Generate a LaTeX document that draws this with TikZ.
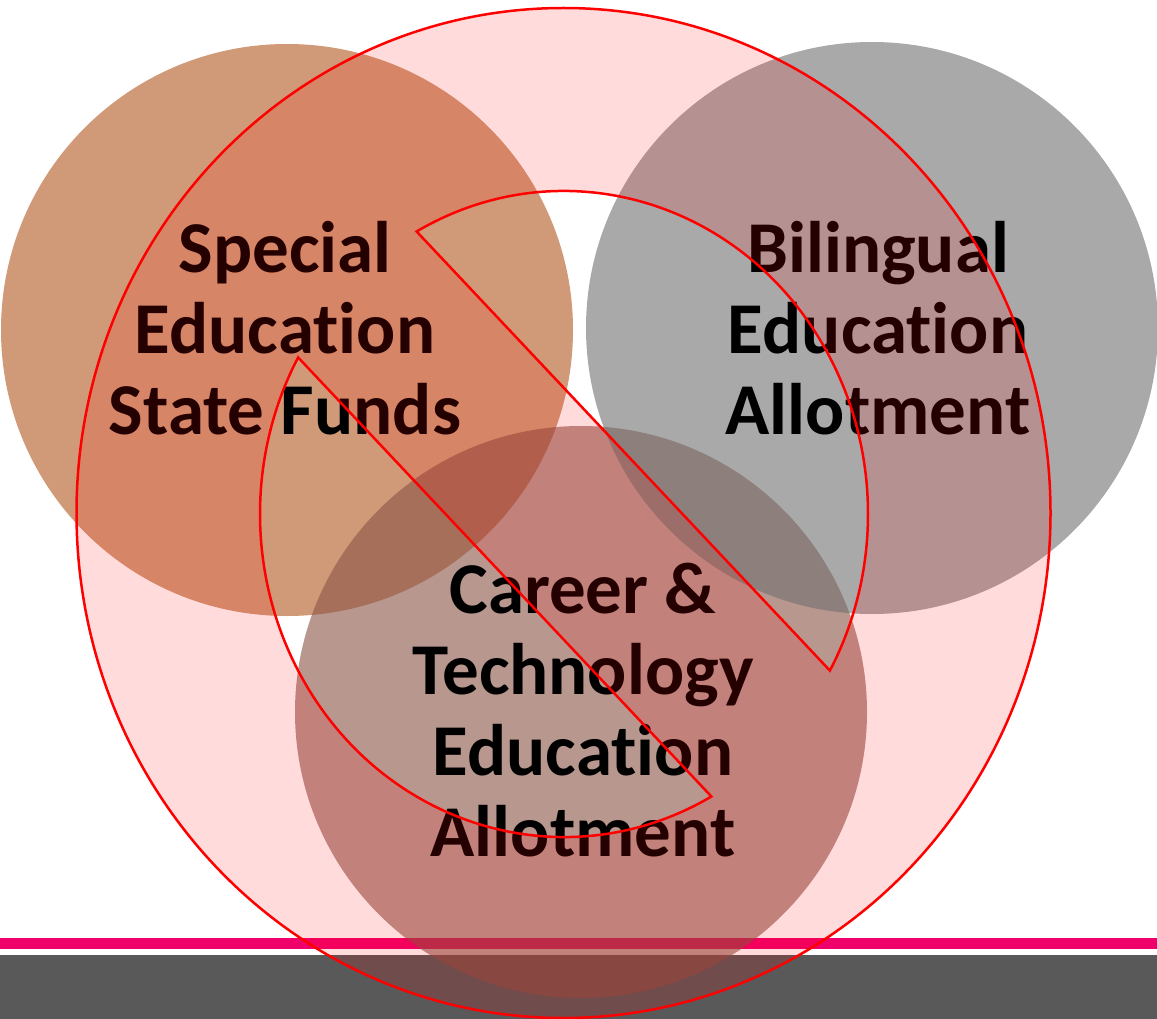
\documentclass[tikz,border=0pt]{standalone}
\usepackage{fontspec}
\setmainfont[Ligatures=NoCommon]{Carlito}
\definecolor{vennorange}{HTML}{B1571E}
\definecolor{vennred}{HTML}{895244}
\definecolor{venngray}{HTML}{707070}
\definecolor{barpink}{HTML}{F0006A}
\definecolor{bargray}{HTML}{595959}
\begin{document}
\begin{tikzpicture}[x=1pt,y=-1pt,
    venn/.style={circle,minimum size=572pt,inner sep=0pt,fill opacity=0.6},
    venntext/.style={align=center,font=\bfseries\fontsize{73}{81}\selectfont},
    ring/.style={draw=red,line width=2.5pt,fill=red,fill opacity=0.14,even odd rule}]
  \useasboundingbox (0,0) rectangle (1157,1019);
  \fill[barpink] (0,938) rectangle (1157,949);
  \fill[bargray] (0,955) rectangle (1157,1019);
  \node[venn,fill=vennorange] (sped) at (287,330) {};
  \node[venn,fill=vennred] (cte) at (581,712) {};
  \node[venn,fill=venngray] (bil) at (872,328) {};
  \node[venntext] (spedtext) at (285,328) {Special\\Education\\State Funds};
  \node[venntext] (biltext) at (878,328) {Bilingual\\Education\\Allotment};
  \node[venntext] (ctetext) at (583,710) {Career \&\\Technology\\Education\\Allotment};
  \coordinate (hub) at (564,514);
  \path[ring] (563.5,513) ellipse [x radius=487, y radius=505]
    ([shift={(-119:304 and 323)}]hub) arc [start angle=-119, end angle=29, x radius=304, y radius=323] -- cycle
    ([shift={(61:304 and 323)}]hub) arc [start angle=61, end angle=209, x radius=304, y radius=323] -- cycle;
\end{tikzpicture}
\end{document}
